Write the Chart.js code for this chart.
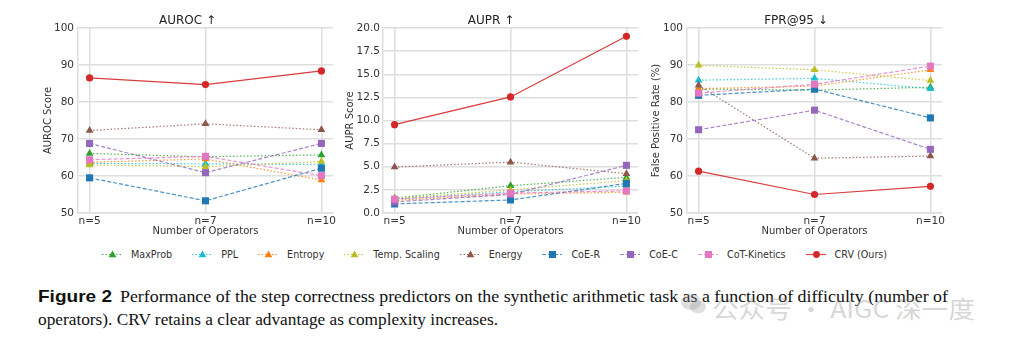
<!DOCTYPE html>
<html>
<head>
<meta charset="utf-8">
<script src="https://cdn.jsdelivr.net/npm/chart.js@4.4.1/dist/chart.umd.min.js"></script>
<style>
  body { margin: 0; width: 1011px; height: 345px; background: #fff; position: relative; overflow: hidden; }
  .panel { position: absolute; top: 0; }
  #legend { position: absolute; left: 102px; top: 249px; display: flex; align-items: center;
            font: 9.6px 'DejaVu Sans', sans-serif; color: #333; white-space: nowrap; }
  #legend .item { display: flex; align-items: center; margin-right: 20px; }
  #legend svg { margin-right: 9px; }
  .cap { position: absolute; white-space: nowrap; transform-origin: 0 50%; color: #111; }
  .serif { font: 17px 'Liberation Serif', 'DejaVu Serif', serif; }
  .fig { font: bold 17px 'Liberation Sans Narrow', 'Liberation Sans', sans-serif; }
  .mark { position: absolute; left: 712px; top: 290px; white-space: nowrap; transform-origin: 0 50%;
          font: 24px 'Noto Sans CJK SC', sans-serif; color: rgba(150,150,150,0.4); }
</style>
</head>
<body>
<div class="panel" style="left:42px"><canvas id="auroc" width="303" height="240"></canvas></div>
<div class="panel" style="left:344px"><canvas id="aupr" width="306" height="240"></canvas></div>
<div class="panel" style="left:650px"><canvas id="fpr" width="304" height="240"></canvas></div>
<div id="legend"></div>

<span class="cap fig" id="figLabel" style="left:38px; top:287px">Figure 2</span>
<span class="cap serif" id="line1" style="left:120px; top:287px">Performance of the step correctness predictors on the synthetic arithmetic task as a function of difficulty (number of</span>
<span class="cap serif" id="line2" style="left:38px; top:310px">operators). CRV retains a clear advantage as complexity increases.</span>
<svg style="position:absolute; left:680px; top:292px" width="28" height="24">
  <ellipse cx="11" cy="10" rx="10" ry="8" fill="rgba(150,150,150,0.3)"/>
  <ellipse cx="18" cy="15" rx="8" ry="6.5" fill="rgba(150,150,150,0.3)"/>
</svg>
<span class="mark" id="mark">公众号 · AIGC 深一度</span>

<script>
const operatorLabels = ['n=5', 'n=7', 'n=10'];
const methodNames = ['MaxProb', 'PPL', 'Entropy', 'Temp. Scaling', 'Energy', 'CoE-R', 'CoE-C', 'CoT-Kinetics', 'CRV (Ours)'];

// one row per method, same order as methodNames
const aurocScores = [
  [66.1, 65.2, 65.7],
  [63.4, 63.3, 63.1],
  [63.7, 64.6, 58.9],
  [63.0, 62.5, 63.9],
  [72.3, 74.1, 72.5],
  [59.5, 53.3, 62.1],
  [68.8, 60.9, 68.8],
  [64.4, 65.3, 60.1],
  [86.5, 84.7, 88.4]
];
const auprScores = [
  [1.6, 2.95, 3.85],
  [1.5, 2.3, 2.9],
  [1.35, 2.05, 2.25],
  [1.55, 2.5, 3.5],
  [4.97, 5.5, 4.25],
  [0.98, 1.41, 3.2],
  [1.2, 2.0, 5.15],
  [1.5, 2.15, 2.4],
  [9.55, 12.55, 19.1]
];
const fprScores = [
  [83.5, 83.2, 84.0],
  [85.9, 86.4, 83.6],
  [83.6, 84.3, 88.7],
  [89.9, 88.7, 85.8],
  [84.5, 64.8, 65.4],
  [81.8, 83.5, 75.7],
  [72.5, 77.8, 67.2],
  [82.4, 84.8, 89.7],
  [61.3, 55.0, 57.2]
];
const auprTicks = [0, 2.5, 5, 7.5, 10, 12.5, 15, 17.5, 20];

// look of each method: colour, dash pattern, marker
const styles = [
  { color: '#2ca02c', dash: [1.5, 2], marker: 'triangle' },
  { color: '#17becf', dash: [1.5, 2], marker: 'triangle' },
  { color: '#ff7f0e', dash: [1.5, 2], marker: 'triangle' },
  { color: '#bcbd22', dash: [1.5, 2], marker: 'triangle' },
  { color: '#8c564b', dash: [1.5, 2], marker: 'triangle' },
  { color: '#1f77b4', dash: [4, 2], marker: 'rect' },
  { color: '#9467bd', dash: [4, 2], marker: 'rect' },
  { color: '#e377c2', dash: [4, 2], marker: 'rect' },
  { color: '#d62728', dash: [], marker: 'circle' }
];

function alpha(hex, a) {
  const n = parseInt(hex.slice(1), 16);
  return `rgba(${n >> 16},${(n >> 8) & 255},${n & 255},${a})`;
}

function markerRadius(m) {
  if (m === 'rect') return 5;
  if (m === 'triangle') return 4.5;
  return 3.6;
}

const gridColor = '#dedede';
const tickFont = { family: 'DejaVu Sans', size: 10.5 };
const labelFont = { family: 'DejaVu Sans', size: 10 };

function makeChart(id, title, yTitle, scores, yOpts, yWidth) {
  const datasets = scores.map((vals, i) => {
    const st = styles[i];
    const lineAlpha = st.marker === 'circle' ? 0.9 : 0.8;
    return {
      label: methodNames[i],
      data: vals.map((v, k) => ({ x: k, y: v })),
      borderColor: alpha(st.color, lineAlpha),
      backgroundColor: st.color,
      pointBackgroundColor: st.color,
      pointBorderColor: st.color,
      pointBorderWidth: 0,
      borderWidth: 1.2,
      borderDash: st.dash,
      pointStyle: st.marker,
      pointRadius: markerRadius(st.marker),
      tension: 0,
      order: scores.length - i
    };
  });

  return new Chart(document.getElementById(id), {
    type: 'line',
    data: { datasets },
    options: {
      responsive: false,
      animation: false,
      layout: { padding: { top: 0, right: 12, bottom: 3, left: 0 } },
      plugins: {
        legend: { display: false },
        tooltip: { enabled: false },
        title: {
          display: true,
          text: title,
          color: '#222',
          font: { family: 'DejaVu Sans', size: 12, weight: 'normal' },
          padding: { top: 13.5, bottom: 0.1 }
        }
      },
      scales: {
        x: {
          type: 'linear',
          min: -0.1,
          max: 2.1,
          afterBuildTicks: s => { s.ticks = operatorLabels.map((_, k) => ({ value: k })); },
          afterFit: s => { s.height = 24; },
          ticks: {
            callback: v => operatorLabels[v],
            color: '#333',
            font: tickFont,
            padding: 1.5,
            maxRotation: 0
          },
          grid: { color: gridColor, lineWidth: 1.5, drawTicks: false },
          border: { color: gridColor, width: 1.5 },
          title: { display: true, text: 'Number of Operators', color: '#333', font: labelFont, padding: 0 }
        },
        y: Object.assign({
          afterFit: s => { s.width = yWidth; },
          ticks: Object.assign({ color: '#333', font: tickFont, padding: 4 }, yOpts.ticks || {}),
          grid: { color: gridColor, lineWidth: 1.5, drawTicks: false },
          border: { color: gridColor, width: 1.5 },
          title: { display: true, text: yTitle, color: '#333', font: labelFont, padding: 0 }
        }, yOpts.range)
      }
    }
  });
}

makeChart('auroc', 'AUROC ↑', 'AUROC Score', aurocScores,
  { range: { min: 50, max: 100 }, ticks: { stepSize: 10 } }, 36);
makeChart('aupr', 'AUPR ↑', 'AUPR Score', auprScores,
  { range: { min: 0, max: 20, afterBuildTicks: s => { s.ticks = auprTicks.map(v => ({ value: v })); } },
    ticks: { callback: v => v.toFixed(1), padding: 3 } }, 39);
makeChart('fpr', 'FPR@95 ↓', 'False Positive Rate (%)', fprScores,
  { range: { min: 50, max: 100 }, ticks: { stepSize: 10 } }, 37);

// shared legend below the panels
const legend = document.getElementById('legend');
methodNames.forEach((name, i) => {
  const st = styles[i];
  let mk;
  if (st.marker === 'rect') mk = `<rect x="7" y="2" width="7" height="7" fill="${st.color}"/>`;
  else if (st.marker === 'triangle') mk = `<polygon points="10.5,1.5 14.3,8.2 6.7,8.2" fill="${st.color}"/>`;
  else mk = `<circle cx="10.5" cy="5.5" r="3.4" fill="${st.color}"/>`;
  const dash = st.dash.length ? `stroke-dasharray="${st.dash.join(' ')}"` : '';
  const item = document.createElement('div');
  item.className = 'item';
  item.innerHTML = `<svg width="20" height="11"><line x1="0" y1="5.5" x2="20" y2="5.5" stroke="${alpha(st.color, 0.85)}" stroke-width="1.2" ${dash}/>${mk}</svg><span>${name}</span>`;
  legend.appendChild(item);
});

// fit caption lines to their column width
function fitWidth(id, width) {
  const el = document.getElementById(id);
  const w = el.getBoundingClientRect().width;
  el.style.transform = `scaleX(${width / w})`;
}
fitWidth('figLabel', 74);
fitWidth('line1', 828);
fitWidth('line2', 460);
fitWidth('mark', 263);
</script>
</body>
</html>
